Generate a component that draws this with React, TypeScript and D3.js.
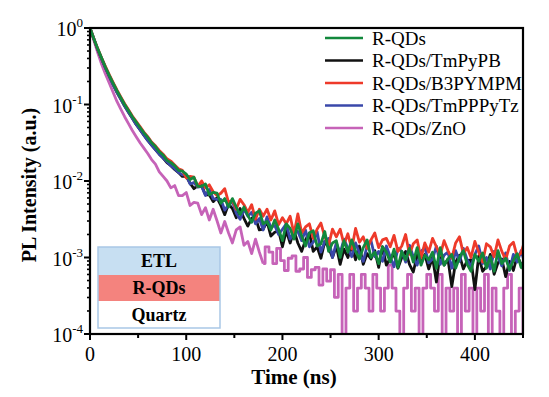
import { useRef, useEffect } from "react";
import * as d3 from "d3";

// sampling interval of the decay traces (ns)
const timeStep = 4;
// past this time the ZnO trace is single-photon counts, drawn as steps
const zno_stepFrom = 180;

const seriesNames = [
  "R-QDs",
  "R-QDs/TmPyPB",
  "R-QDs/B3PYMPM",
  "R-QDs/TmPPPyTz",
  "R-QDs/ZnO",
];
const seriesColors = ["#12883c", "#111111", "#ee3a2a", "#3a48aa", "#c663b8"];

const xTicks = [0, 100, 200, 300, 400];
const xMinorTicks = [50, 150, 250, 350, 450];
const yExponents = [0, -1, -2, -3, -4];

const stackLayers = ["ETL", "R-QDs", "Quartz"];
const stackFills = ["#c7dff2", "#f4837e", "#ffffff"];

// log10 of normalised PL intensity, one sample every 4 ns starting at 0 ns
const logRQDs = [
  0, -0.14, -0.27, -0.39, -0.51, -0.62, -0.72, -0.82, -0.91, -1.0, -1.08, -1.16, -1.23, -1.3, -1.37, -1.43,
  -1.5, -1.55, -1.62, -1.66, -1.73, -1.76, -1.8, -1.86, -1.87,
  -1.91, -1.98, -1.95, -2.07, -2.07, -2.04, -2.18, -2.15, -2.16, -2.29, -2.23, -2.34, -2.23, -2.34, -2.44, -2.34,
  -2.45, -2.54, -2.42, -2.39, -2.56, -2.53, -2.64, -2.51, -2.63, -2.78, -2.56, -2.62, -2.76, -2.56, -2.72, -2.85,
  -2.68, -2.65, -2.85, -2.82, -2.66, -2.92, -2.81, -2.78, -3.0, -2.78, -2.93, -2.77, -2.92, -3.02, -2.87, -2.77,
  -3.0, -2.93, -3.08, -2.86, -2.93, -3.06, -2.89, -3.13, -2.92, -3.03, -2.88, -3.06, -2.87, -3.1, -2.97, -3.03,
  -2.93, -3.14, -2.87, -3.1, -3.02, -2.96, -3.14, -3.0, -2.91, -3.09, -3.18, -2.96, -3.05, -2.94, -3.14, -2.99,
  -3.18, -2.91, -3.08, -3.01, -3.16, -3.04, -2.95, -3.13, -3.02,
];
const logTmPyPB = [
  0, -0.14, -0.28, -0.4, -0.52, -0.63, -0.74, -0.84, -0.93, -1.02, -1.1, -1.18, -1.26, -1.33, -1.4, -1.47,
  -1.53, -1.59, -1.65, -1.7, -1.76, -1.8, -1.85, -1.89, -1.94,
  -1.94, -2.03, -2.1, -2.06, -2.06, -2.18, -2.18, -2.27, -2.22, -2.32, -2.44, -2.3, -2.36, -2.48, -2.36, -2.49,
  -2.59, -2.49, -2.48, -2.64, -2.63, -2.53, -2.72, -2.67, -2.65, -2.86, -2.65, -2.81, -2.65, -2.81, -2.92, -2.77,
  -2.68, -2.92, -2.86, -3.01, -2.79, -2.87, -3.0, -2.85, -3.09, -2.89, -3.0, -2.85, -3.03, -2.85, -3.09, -2.95,
  -3.02, -2.91, -3.13, -2.86, -3.1, -3.01, -2.96, -3.14, -3.0, -2.92, -3.09, -3.19, -2.97, -3.06, -2.96, -3.15,
  -3.0, -3.32, -2.93, -3.1, -3.02, -3.38, -3.06, -2.97, -3.15, -3.04, -3.03, -3.42, -2.98, -3.18, -3.12, -2.96,
  -3.22, -3.07, -3.02, -3.25, -3.05, -3.17, -2.98, -3.09, -3.2,
];
const logB3PYMPM = [
  0, -0.14, -0.27, -0.39, -0.5, -0.61, -0.71, -0.81, -0.9, -0.99, -1.07, -1.15, -1.22, -1.29, -1.36, -1.42,
  -1.49, -1.54, -1.6, -1.65, -1.71, -1.74, -1.79, -1.84, -1.86,
  -1.96, -1.94, -1.95, -2.07, -2.0, -2.09, -2.05, -2.14, -2.19, -2.16, -2.1, -2.28, -2.25, -2.37, -2.24, -2.31,
  -2.41, -2.31, -2.5, -2.37, -2.46, -2.37, -2.51, -2.39, -2.57, -2.48, -2.56, -2.46, -2.69, -2.43, -2.68, -2.6,
  -2.56, -2.75, -2.63, -2.55, -2.73, -2.84, -2.63, -2.73, -2.63, -2.83, -2.69, -2.89, -2.62, -2.8, -2.73, -2.88,
  -2.77, -2.68, -2.87, -2.77, -2.75, -2.86, -2.71, -2.92, -2.85, -2.7, -2.96, -2.82, -2.77, -3.01, -2.81, -2.93,
  -2.75, -2.86, -2.97, -2.78, -2.91, -3.01, -2.81, -2.73, -2.95, -2.87, -3.0, -2.79, -2.93, -3.06, -2.82, -2.86,
  -2.99, -2.77, -2.92, -3.03, -2.85, -2.8, -2.99, -2.94, -2.77,
];
const logTmPPPyTz = [
  0, -0.14, -0.28, -0.4, -0.52, -0.63, -0.74, -0.84, -0.93, -1.02, -1.1, -1.18, -1.26, -1.33, -1.4, -1.47,
  -1.53, -1.59, -1.65, -1.7, -1.75, -1.8, -1.84, -1.89, -1.92,
  -1.92, -2.04, -2.02, -2.08, -2.07, -2.19, -2.11, -2.23, -2.24, -2.24, -2.38, -2.31, -2.27, -2.42, -2.5, -2.37,
  -2.46, -2.41, -2.56, -2.49, -2.64, -2.47, -2.61, -2.58, -2.7, -2.63, -2.56, -2.76, -2.66, -2.66, -2.78, -2.64,
  -2.86, -2.8, -2.66, -2.93, -2.79, -2.75, -3.0, -2.81, -2.94, -2.76, -2.88, -2.99, -2.81, -2.94, -3.05, -2.85,
  -2.78, -2.99, -2.92, -3.05, -2.85, -2.99, -3.12, -2.88, -2.92, -3.06, -2.84, -2.99, -3.1, -2.92, -2.87, -3.07,
  -3.02, -2.85, -3.09, -2.97, -2.93, -3.14, -2.91, -3.05, -2.88, -3.03, -3.12, -2.96, -2.85, -3.08, -3.0, -3.15,
  -2.92, -2.99, -3.11, -2.94, -3.17, -2.96, -3.06, -2.91, -3.08,
];
// empty channels (zero counts) fall below the axis and are clipped
const logZnO = [
  0, -0.16, -0.32, -0.47, -0.6, -0.72, -0.84, -0.96, -1.06, -1.16, -1.25, -1.34, -1.42, -1.5, -1.57, -1.64,
  -1.72, -1.78, -1.88, -1.94,
  -2.0, -2.09, -2.06, -2.19, -2.19, -2.15, -2.32, -2.28, -2.29, -2.44, -2.35, -2.51, -2.37, -2.52, -2.68, -2.53,
  -2.68, -2.81, -2.64, -2.6, -2.84, -2.79, -2.95, -2.76, -2.93, -3.08, -2.86, -2.93, -3.08, -2.88, -3.04, -3.17,
  -3.01, -2.98, -3.18, -3.15, -3.0, -3.26, -3.16, -3.13, -3.36, -3.15, -3.31, -3.16, -3.52, -3.22,
  -4.5, -3.4, -3.22, -3.7, -3.4, -3.22, -3.4, -3.7, -3.22, -3.4, -3.7, -3.4, -3.1, -3.4, -3.7, -4.5,
  -3.4, -3.22, -3.7, -3.4, -4.5, -3.4, -3.22, -3.4, -3.7, -3.22, -4.5, -3.4, -3.7, -3.4, -4.5, -3.22,
  -3.7, -3.4, -4.5, -3.4, -3.7, -3.22, -4.5, -3.4, -3.7, -4.5, -3.4, -3.22, -4.5, -3.7, -3.4, -4.5,
];

const seriesData = [logRQDs, logTmPyPB, logB3PYMPM, logTmPPPyTz, logZnO];

const W = 549;
const H = 397;
const serif = "'Liberation Serif', 'Times New Roman', serif";

type Pt = [number, number];

const DecayChart: React.FC = () => {
  const svgRef = useRef<SVGSVGElement | null>(null);

  useEffect(() => {
    if (!svgRef.current) return;
    const svg = d3.select(svgRef.current);
    svg.selectAll("*").remove();

    const left = 90;
    const right = 523;
    const top = 28;
    const bottom = 334;

    const x = d3.scaleLinear().domain([0, 450]).range([left, right]);
    const y = d3.scaleLog().domain([1e-4, 1]).range([bottom, top]);

    svg
      .append("defs")
      .append("clipPath")
      .attr("id", "plot-clip")
      .append("rect")
      .attr("x", left)
      .attr("y", top)
      .attr("width", right - left)
      .attr("height", bottom - top);

    const linear = d3
      .line<Pt>()
      .x((d) => x(d[0]))
      .y((d) => y(d[1]));
    const stepped = d3
      .line<Pt>()
      .x((d) => x(d[0]))
      .y((d) => y(d[1]))
      .curve(d3.curveStep);

    // decay traces, ZnO at the back, plain R-QDs on top
    const drawOrder = [4, 1, 3, 2, 0];
    const traces = svg.append("g").attr("clip-path", "url(#plot-clip)");
    drawOrder.forEach((k) => {
      const pts: Pt[] = seriesData[k].map((v, i) => [i * timeStep, Math.pow(10, v)]);
      const pieces: [Pt[], d3.Line<Pt>][] =
        k === 4
          ? [
              [pts.filter((p) => p[0] <= zno_stepFrom), linear],
              [pts.filter((p) => p[0] >= zno_stepFrom), stepped],
            ]
          : [[pts, linear]];
      pieces.forEach(([seg, gen]) => {
        traces
          .append("path")
          .datum(seg)
          .attr("fill", "none")
          .attr("stroke", seriesColors[k])
          .attr("stroke-width", 2.8)
          .attr("stroke-linejoin", "round")
          .attr("d", gen);
      });
    });

    // frame
    svg
      .append("rect")
      .attr("x", left)
      .attr("y", top)
      .attr("width", right - left)
      .attr("height", bottom - top)
      .attr("fill", "none")
      .attr("stroke", "#000")
      .attr("stroke-width", 2.2);

    // x axis
    const xAxis = svg.append("g");
    xTicks.forEach((t) => {
      xAxis
        .append("line")
        .attr("x1", x(t))
        .attr("x2", x(t))
        .attr("y1", bottom)
        .attr("y2", bottom + 6)
        .attr("stroke", "#000")
        .attr("stroke-width", 2);
      xAxis
        .append("text")
        .attr("x", x(t))
        .attr("y", bottom + 27)
        .attr("text-anchor", "middle")
        .attr("font-family", serif)
        .attr("font-size", 20)
        .text(t);
    });
    xMinorTicks.forEach((t) => {
      xAxis
        .append("line")
        .attr("x1", x(t))
        .attr("x2", x(t))
        .attr("y1", bottom)
        .attr("y2", bottom + 4)
        .attr("stroke", "#000")
        .attr("stroke-width", 2);
    });

    // y axis with log minor ticks
    const yAxis = svg.append("g");
    yExponents.forEach((e) => {
      const v = Math.pow(10, e);
      yAxis
        .append("line")
        .attr("x1", left - 6)
        .attr("x2", left)
        .attr("y1", y(v))
        .attr("y2", y(v))
        .attr("stroke", "#000")
        .attr("stroke-width", 2);
      const label = yAxis
        .append("text")
        .attr("x", left - 7)
        .attr("y", y(v) + 8)
        .attr("text-anchor", "end")
        .attr("font-family", serif)
        .attr("font-size", 20);
      label.append("tspan").text("10");
      label
        .append("tspan")
        .attr("dy", -9)
        .attr("font-size", 13)
        .text(String(e));
      if (e > -4) {
        for (let m = 2; m <= 9; m++) {
          const mv = (v / 10) * m;
          yAxis
            .append("line")
            .attr("x1", left - 3)
            .attr("x2", left)
            .attr("y1", y(mv))
            .attr("y2", y(mv))
            .attr("stroke", "#000")
            .attr("stroke-width", 1.6);
        }
      }
    });

    // axis titles
    svg
      .append("text")
      .attr("x", 294)
      .attr("y", 384)
      .attr("text-anchor", "middle")
      .attr("font-family", serif)
      .attr("font-weight", "bold")
      .attr("font-size", 21)
      .text("Time (ns)");
    svg
      .append("text")
      .attr("transform", `translate(36,185) rotate(-90)`)
      .attr("text-anchor", "middle")
      .attr("font-family", serif)
      .attr("font-weight", "bold")
      .attr("font-size", 20)
      .text("PL Intensity (a.u.)");

    // legend
    const legend = svg.append("g");
    seriesNames.forEach((name, i) => {
      const cy = 38 + i * 22.5;
      legend
        .append("line")
        .attr("x1", 325)
        .attr("x2", 363)
        .attr("y1", cy)
        .attr("y2", cy)
        .attr("stroke", seriesColors[i])
        .attr("stroke-width", 2.4);
      legend
        .append("text")
        .attr("x", 372)
        .attr("y", cy + 6.5)
        .attr("font-family", serif)
        .attr("font-size", 19)
        .text(name);
    });

    // device stack inset
    const inset = svg.append("g");
    const insetX = 98;
    const insetW = 122;
    const rowTops = [247, 275, 301];
    const rowH = [28, 26, 27];
    stackLayers.forEach((layer, i) => {
      inset
        .append("rect")
        .attr("x", insetX)
        .attr("y", rowTops[i])
        .attr("width", insetW)
        .attr("height", rowH[i])
        .attr("fill", stackFills[i]);
      inset
        .append("text")
        .attr("x", insetX + insetW / 2)
        .attr("y", rowTops[i] + rowH[i] / 2 + 6)
        .attr("text-anchor", "middle")
        .attr("font-family", serif)
        .attr("font-weight", "bold")
        .attr("font-size", 18)
        .text(layer);
    });
    inset
      .append("rect")
      .attr("x", insetX)
      .attr("y", rowTops[0])
      .attr("width", insetW)
      .attr("height", 81)
      .attr("fill", "none")
      .attr("stroke", "#a9c7e6")
      .attr("stroke-width", 1.5);
  }, []);

  return (
    <svg
      ref={svgRef}
      width={W}
      height={H}
      style={{ position: "absolute", left: 0, top: 0, background: "#fff" }}
    />
  );
};

const App: React.FC = () => {
  return <DecayChart />;
};

export default App;
